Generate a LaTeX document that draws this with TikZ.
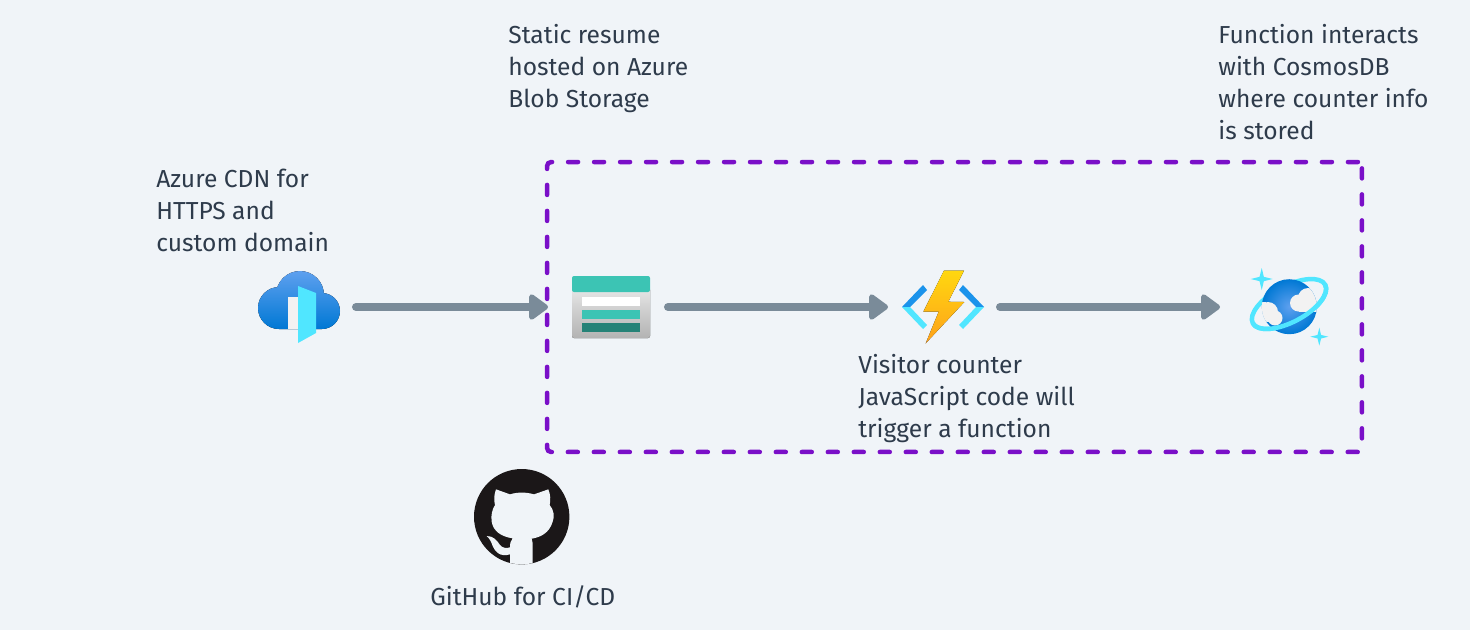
\documentclass[tikz,border=0pt]{standalone}
\usepackage{fontspec}
\setmainfont{Fira Sans}
\usetikzlibrary{arrows.meta,shapes.geometric}
\definecolor{pagebg}{HTML}{F0F4F8}
\definecolor{inktext}{HTML}{2E3B4B}
\definecolor{flowgray}{HTML}{7A8B99}
\definecolor{grouppurple}{HTML}{7A0FC8}
\definecolor{azcyan}{HTML}{50E6FF}
\definecolor{azblue}{HTML}{0078D4}
\definecolor{azsky}{HTML}{5EA0EF}
\definecolor{cloudwhite}{HTML}{F2F2F2}
\definecolor{storageteal}{HTML}{3CC4B4}
\definecolor{storagedark}{HTML}{258277}
\definecolor{boltyellow}{HTML}{FFD70F}
\definecolor{boltorange}{HTML}{FEA11B}
\definecolor{funcblue}{HTML}{1B93EB}
\definecolor{catblack}{HTML}{1B1718}
\begin{document}
\begin{tikzpicture}[
        x=0.02cm,y=-0.02cm,
        note/.style={anchor=north west,inner sep=0pt,align=left,text=inktext,font=\fontsize{14}{18.14}\selectfont},
        slot/.style={minimum height=1.6cm,inner sep=0pt,outer sep=0pt},
        flow/.style={-{Triangle[length=0.42cm,width=0.58cm,round]},line width=0.16cm,line cap=round,flowgray},
        group/.style={draw=grouppurple,line width=0.09cm,line cap=round,rounded corners=0.08cm,dash pattern=on 0.2cm off 0.32cm,minimum width=16.3cm,minimum height=5.8cm,inner sep=0pt},
        sparkle/.style={star,star points=4,star point ratio=3.6,fill=azcyan,inner sep=0pt}
    ]
        \fill[pagebg] (0,0) rectangle (1470,630);
        \useasboundingbox (0,0) rectangle (1470,630);

        % Group box and the slots the connectors run between
        \node[group] (Group) at (954.5,307) {};
        \node[slot,minimum width=2.32cm] (Cdn) at (298,307) {};
        \node[slot,minimum width=2.40cm] (Blob) at (608,307) {};
        \node[slot,minimum width=2.24cm] (Func) at (944,307) {};
        \node[slot,minimum width=2.72cm] (Cosmos) at (1288,307) {};

        % Azure CDN
        \begin{scope}
            \clip (258,271) rectangle (340,329);
            \fill[top color=azsky,bottom color=azblue] (279,308) circle (21) (322,311) circle (18) (300,295) circle (24) (322,300) rectangle (279,329);
        \end{scope}
        \fill[cloudwhite] (288,297) rectangle (298,329);
        \fill[azcyan] (298,286) -- (316,293) -- (316,333) -- (298,343) -- cycle;

        % Blob storage
        \fill[top color=cloudwhite!95!black,bottom color=black!30,rounded corners=0.04cm] (572,288) rectangle (650,338);
        \fill[storageteal,rounded corners=0.04cm] (572,276) rectangle (650,292);
        \fill[white] (582,297) rectangle (640,306);
        \fill[storageteal] (582,310) rectangle (640,319);
        \fill[storagedark] (582,323) rectangle (640,332);

        % Function
        \fill[funcblue] (902,307) -- (923,285) -- (927,290) -- (910,307) -- cycle;
        \fill[azcyan] (902,307) -- (910,307) -- (927,325) -- (923,329) -- cycle;
        \fill[funcblue] (984,307) -- (963,285) -- (959,290) -- (976,307) -- cycle;
        \fill[azcyan] (984,307) -- (976,307) -- (959,325) -- (963,329) -- cycle;
        \fill[top color=boltyellow,bottom color=boltorange] (923.3,311.7) -- (944,270.7) -- (964,270.7) -- (948.3,301.7) -- (964.3,302) -- (925.7,343.3) -- (938.7,311.7) -- cycle;

        % CosmosDB
        \draw[azcyan,line width=0.09cm,rotate around={28:(1289,304)}] (1289,304) ellipse [x radius=41,y radius=18];
        \shade[inner color=azsky,outer color=azblue] (1289.3,306.7) circle (27.5);
        \begin{scope}
            \clip (1289.3,306.7) circle (27.5);
            \fill[cloudwhite] (1298.5,303) circle (8.5);
            \fill[cloudwhite] (1308,298) circle (10);
            \fill[cloudwhite] (1299,302) rectangle (1320,311.5);
            \fill[cloudwhite] (1268,312) circle (10);
            \fill[cloudwhite] (1275,318) circle (7.5);
            \fill[cloudwhite] (1255,302) rectangle (1266,326);
        \end{scope}
        \begin{scope}[shift={(1289,304)},rotate=28]
            \draw[azcyan,line width=0.09cm] (41,0) arc [start angle=0,end angle=180,x radius=41,y radius=18];
        \end{scope}
        \node[sparkle,minimum size=0.44cm] (SparkA) at (1261.7,279) {};
        \node[sparkle,minimum size=0.36cm] (SparkB) at (1319.3,336.7) {};

        % GitHub
        \fill[catblack] (521.7,516.7) circle (47.7);
        \begin{scope}[shift={(460,460)},x=0.02cm/3,y=-0.02cm/3]
            \clip (185,170) circle (143);
            \fill[pagebg] (108,88) -- (150,103) .. controls (172,96) and (198,96) .. (222,103) -- (265,88)
                .. controls (272,105) and (272,120) .. (269,135) .. controls (282,150) and (284,170) .. (278,185)
                .. controls (268,220) and (240,232) .. (215,236) .. controls (218,245) and (218,250) .. (218,262)
                -- (218,320) -- (150,320) -- (150,283) .. controls (120,292) and (105,275) .. (98,258)
                .. controls (94,245) and (88,235) .. (80,228) .. controls (100,228) and (110,240) .. (120,255)
                .. controls (128,265) and (140,265) .. (150,262) .. controls (150,250) and (152,242) .. (158,235)
                .. controls (125,230) and (100,215) .. (95,185) .. controls (92,165) and (97,148) .. (105,135)
                .. controls (101,120) and (102,105) .. (108,88) -- cycle;
        \end{scope}

        % Connectors
        \draw[flow] (Cdn) -- (Blob);
        \draw[flow] (Blob) -- (Func);
        \draw[flow] (Func) -- (Cosmos);

        % Labels
        \node[note] (BlobText) at (508,24) {Static resume\\hosted on Azure\\Blob Storage};
        \node[note] (CosmosText) at (1218,24) {Function interacts\\with CosmosDB\\where counter info\\is stored};
        \node[note] (CdnText) at (156,169) {Azure CDN for\\HTTPS and\\custom domain};
        \node[note] (FuncText) at (858,354) {Visitor counter\\JavaScript code will\\trigger a function};
        \node[note] (GitText) at (430,585) {GitHub for CI/CD};
    \end{tikzpicture}
\end{document}
